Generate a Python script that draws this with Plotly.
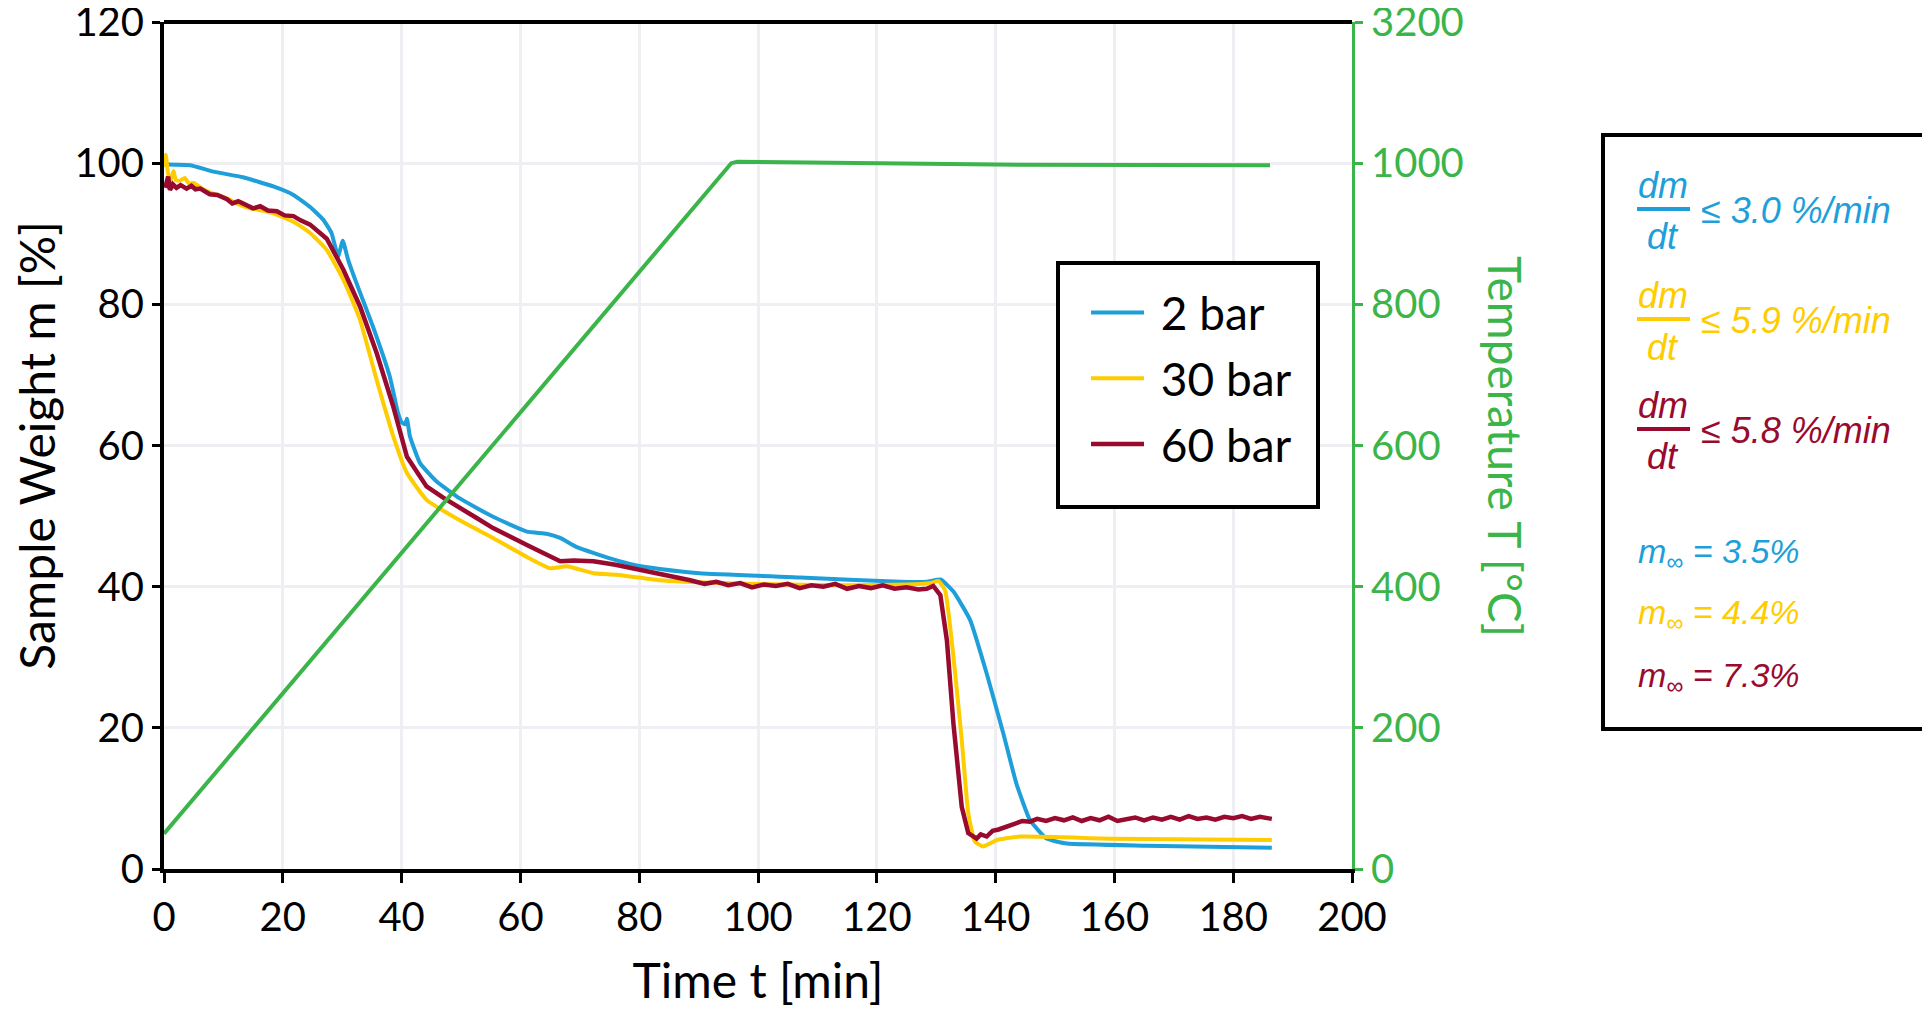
import plotly.graph_objects as go

# time [min] and sample weight [%]
t_2bar = [0, 0.5, 4.4, 8.3, 13.3, 18.4, 21.8, 24.6, 26.8, 28.2, 29.3, 30.1, 31.0, 32.4,
          35.2, 38.0, 39.4, 40.0, 40.6, 40.9, 41.4, 43.1, 45.9, 49.8, 55.4, 61.1, 64.4,
          66.7, 69.5, 75.1, 79.0, 83.5, 90.2, 107.1, 123.9, 128.4, 130.8, 132.9, 135.7,
          138.5, 141.3, 143.5, 145.8, 148.6, 152.0, 165.4, 186.5]
w_2bar = [99.8, 99.8, 99.7, 98.8, 98.0, 96.7, 95.5, 93.8, 92.0, 90.1, 86.8, 89.0, 86.3, 83.0,
          76.8, 69.8, 64.6, 63.3, 63.0, 63.8, 61.3, 57.5, 54.9, 52.5, 49.9, 47.8, 47.5,
          46.9, 45.6, 44.0, 43.1, 42.5, 41.9, 41.3, 40.7, 40.7, 41.0, 39.3, 35.3,
          27.7, 19.2, 12.1, 6.9, 4.3, 3.6, 3.3, 3.0]

t_30bar = [0, 0.3, 0.6, 1.0, 1.6, 2.0, 2.6, 3.5, 4.2, 5.0, 6.6, 8.5, 10.6, 12.5, 14.5, 16.5,
           18.4, 21.8, 24.6, 27.4, 30.2, 33.0, 35.8, 38.6, 40.9, 44.2, 49.8, 55.4, 61.1,
           65.0, 67.8, 72.3, 76.2, 83.5, 87.4, 95, 105, 115, 125, 129.0, 130.4, 131.5,
           132.9, 134.3, 135.4, 136.5, 137.9, 140.2, 144.1, 159.8, 186.5]
w_30bar = [99.5, 101.2, 99.0, 97.3, 98.9, 97.6, 97.5, 97.9, 97.1, 97.2, 96.3, 95.6, 95.0, 94.2,
           93.6, 93.3, 92.9, 91.7, 90.1, 87.7, 83.5, 77.8, 69.3, 61.3, 56.1, 52.3, 49.4,
           46.9, 44.2, 42.6, 42.9, 41.9, 41.7, 40.9, 40.7, 40.5, 40.3, 40.2, 40.3, 40.5,
           40.8, 39.5, 30.1, 18.3, 7.9, 3.9, 3.2, 4.1, 4.6, 4.3, 4.1]

t_60bar = [0.2, 0.7, 1.0, 1.5, 2.1, 2.8, 3.8, 4.6, 5.3, 6.1, 7.7, 9.0, 10.6, 11.5, 12.5, 14.0,
           15.0, 16.2, 17.5, 19.0, 20.3, 21.8, 23.0, 24.6, 26.0, 27.4, 30.2, 33.0, 35.8,
           38.6, 40.9, 44.2, 47.0, 49.8, 52.5, 55.4, 58.2, 61.1, 63.5, 66.7, 69.0, 72.3,
           76.0, 79.0, 83.5, 88.6, 91, 93, 95, 97, 99, 101, 103, 105, 107, 109, 111, 113,
           115, 117, 119, 121, 123, 125, 127, 128.4, 129.5, 130.7, 131.8, 132.9, 134.3,
           135.4, 136.8, 137.5, 138.5, 139.5, 140.5, 141.8, 143, 144.5, 145.8, 147, 148.5,
           150, 151.5, 153, 154.5, 156, 157.5, 159, 160.5, 162, 163.5, 165, 166.5, 168,
           169.5, 171, 172.5, 174, 175.5, 177, 178.5, 180, 181.5, 183, 184.5, 186.5]
w_60bar = [96.5, 98.1, 96.2, 97.0, 96.5, 96.9, 96.4, 96.8, 96.3, 96.4, 95.6, 95.5, 94.9, 94.3,
           94.6, 94.1, 93.6, 93.9, 93.3, 93.2, 92.6, 92.5, 91.9, 91.3, 90.4, 89.3, 84.9,
           79.7, 73.1, 65.5, 58.4, 54.2, 52.6, 51.1, 49.8, 48.3, 47.2, 45.9, 44.9, 43.6,
           43.7, 43.6, 43.1, 42.6, 41.9, 40.9, 40.4, 40.7, 40.2, 40.5, 39.9, 40.3, 40.1,
           40.4, 39.8, 40.2, 40.0, 40.4, 39.7, 40.1, 39.8, 40.2, 39.7, 39.9, 39.6, 39.7,
           40.1, 38.8, 32.4, 20.6, 8.8, 5.1, 4.3, 4.9, 4.6, 5.4, 5.6, 6.0, 6.3, 6.8, 6.7,
           7.1, 6.8, 7.2, 6.9, 7.3, 6.8, 7.2, 6.9, 7.4, 6.8, 7.1, 7.3, 6.9, 7.3, 7.0, 7.4,
           7.0, 7.5, 7.1, 7.3, 7.0, 7.4, 7.2, 7.5, 7.1, 7.4, 7.1]

# furnace temperature [°C]
t_temp = [0, 95.5, 96.5, 110, 125, 140, 186.2]
temp = [50, 1000, 1002, 1001, 1000, 998, 997]

rate_labels = ["≤ 3.0 %/min", "≤ 5.9 %/min", "≤ 5.8 %/min"]
residue_labels = ["3.5%", "4.4%", "7.3%"]

x_ticks = list(range(0, 201, 20))
y_ticks = list(range(0, 121, 20))
y2_ticks = [0, 200, 400, 600, 800, 1000, 1200]
y2_text = ["0", "200", "400", "600", "800", "1000", "3200"]

BLUE = "#1f9fd9"
YELLOW = "#ffcc00"
RED = "#990a2f"
GREEN = "#3bb54a"
FONT = "Lato"

# page body has an 8px margin, so the figure is drawn 8px in from the window edge
W, H = 1914, 1000
OFF = 8
# plot area in window pixels
L, R, T, B = 164, 1352, 22, 869


def px(x, y):
    return (x - L) / (R - L), (B - y) / (B - T)


def note(x, y, text, color, size, xanchor="center", angle=0, family=FONT):
    ax, ay = px(x, y)
    fig.add_annotation(x=ax, y=ay, xref="paper", yref="paper", text=text,
                       xanchor=xanchor, yanchor="middle", textangle=angle,
                       showarrow=False, font=dict(family=family, size=size, color=color))


fig = go.Figure()
fig.add_scatter(x=t_2bar, y=w_2bar, name="\u00a02 bar", mode="lines", legendgroup="a",
                line=dict(color=BLUE, width=4, shape="spline", smoothing=0.4))
fig.add_scatter(x=t_30bar, y=w_30bar, name="\u00a030 bar", mode="lines", legendgroup="b",
                line=dict(color=YELLOW, width=4, shape="spline", smoothing=0.4))
fig.add_scatter(x=t_60bar, y=w_60bar, name="\u00a060 bar", mode="lines", legendgroup="c",
                line=dict(color=RED, width=4.5))
fig.add_scatter(x=t_temp, y=temp, name="T", mode="lines", yaxis="y2",
                line=dict(color=GREEN, width=4), showlegend=False)

lx, ly = px(1086, 276)
fig.update_layout(
    width=W, height=H,
    margin=dict(l=L - OFF, r=W - (R - OFF), t=T - OFF, b=H - (B - OFF)),
    plot_bgcolor="white", paper_bgcolor="white",
    font=dict(family=FONT, size=40, color="black"),
    showlegend=True,
    legend=dict(x=lx, y=ly, xanchor="left", yanchor="top",
                borderwidth=0, bgcolor="rgba(0,0,0,0)",
                font=dict(size=46), itemwidth=53, tracegroupgap=3),
    xaxis=dict(range=[0, 200], tickvals=x_ticks, showline=True, linecolor="black",
               linewidth=4, ticks="outside", ticklen=10, tickwidth=3,
               tickcolor="black", showgrid=True, gridcolor="#efeff3", gridwidth=3,
               zeroline=False, automargin=False, ticklabeloverflow="allow",
               title=dict(text="Time t [min]", standoff=44)),
    yaxis=dict(range=[0, 120], tickvals=y_ticks, showline=True, linecolor="black",
               linewidth=4, ticks="outside", ticklen=8, tickwidth=3, tickcolor="black",
               showgrid=True, gridcolor="#efeff3", gridwidth=3, zeroline=False,
               automargin=False, ticklabeloverflow="allow",
               title=dict(text="Sample Weight m [%]", standoff=53)),
    yaxis2=dict(range=[0, 1200], tickvals=y2_ticks, ticktext=y2_text, overlaying="y",
                side="right", showline=True, linecolor=GREEN, linewidth=3,
                ticks="outside", ticklen=8, tickwidth=3, tickcolor=GREEN,
                tickfont=dict(color=GREEN), showgrid=False, zeroline=False,
                automargin=False, ticklabeloverflow="allow"),
)

# top frame line
fig.add_shape(type="line", xref="paper", yref="paper", x0=0, x1=1, y0=1, y1=1,
              line=dict(color="black", width=4))

# legend frame
gx0, gy0 = px(1058, 507)
gx1, gy1 = px(1318, 263)
fig.add_shape(type="rect", xref="paper", yref="paper", x0=gx0, y0=gy0, x1=gx1, y1=gy1,
              line=dict(color="black", width=4), fillcolor="white", layer="above")

# right axis title, reading top to bottom
note(1506, 446, "Temperature T [°C]", GREEN, 46, angle=90)

# info box on the right
bx0, by0 = px(1603, 729)
bx1, by1 = px(1926, 135)
fig.add_shape(type="rect", xref="paper", yref="paper", x0=bx0, y0=by0, x1=bx1, y1=by1,
              line=dict(color="black", width=4), fillcolor="white", layer="below")

box_font = "Liberation Sans"
colors = [BLUE, YELLOW, RED]
for i, (lab, col) in enumerate(zip(rate_labels, colors)):
    yb = 209 + 110 * i
    fx0, fy = px(1637, yb)
    fx1, _ = px(1690, yb)
    fig.add_shape(type="line", xref="paper", yref="paper", x0=fx0, x1=fx1, y0=fy, y1=fy,
                  line=dict(color=col, width=4))
    note(1663, yb - 24, "<i>dm</i>", col, 36, family=box_font)
    note(1663, yb + 28, "<i>dt</i>", col, 36, family=box_font)
    note(1699, yb + 1, "<i>" + lab + "</i>", col, 36, xanchor="left", family=box_font)

for i, (lab, col) in enumerate(zip(residue_labels, colors)):
    note(1636, 553 + 62 * i, "<i>m<sub>∞</sub> = " + lab + "</i>", col, 34,
         xanchor="left", family=box_font)

fig.write_html("out.html")
